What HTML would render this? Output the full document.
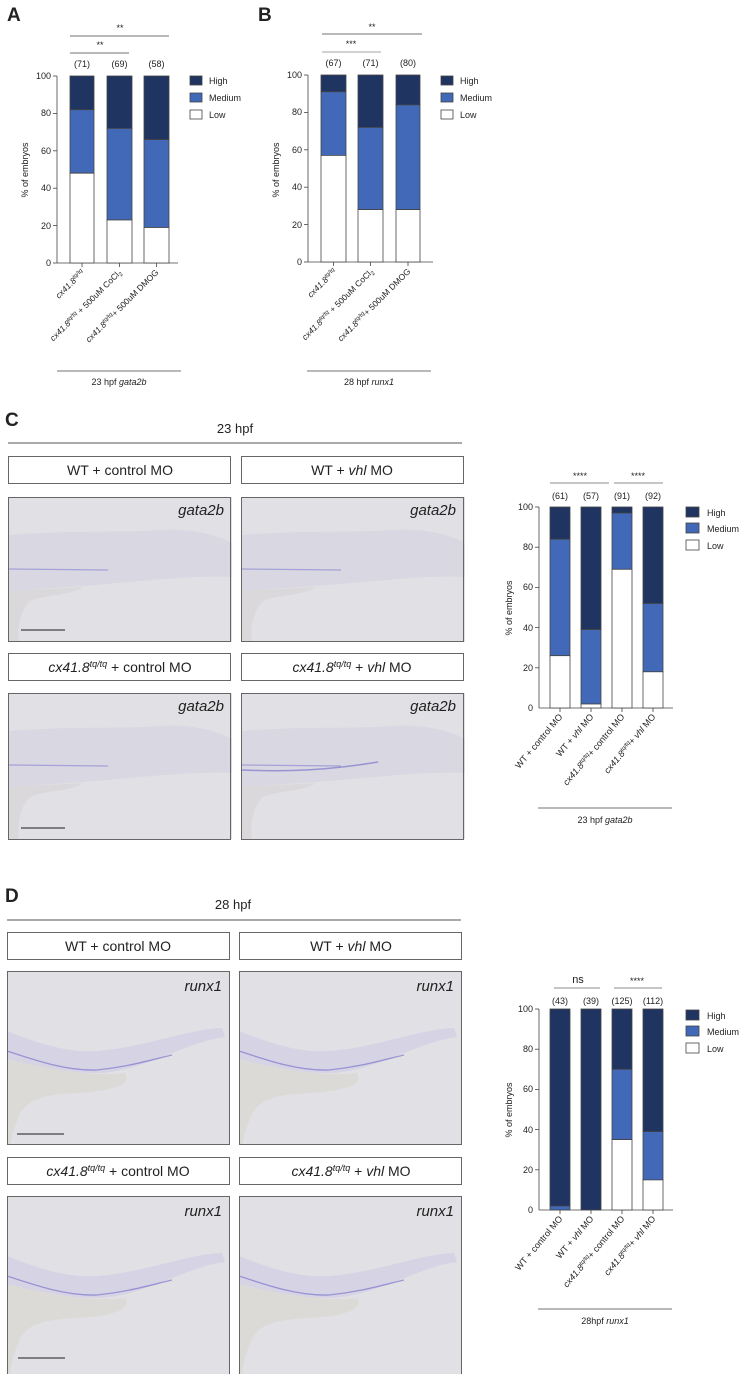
<!DOCTYPE html>
<html><head><meta charset="utf-8"><style>
html,body{margin:0;padding:0;background:#fff;width:746px;height:1374px;overflow:hidden}
text{font-family:"Liberation Sans",sans-serif;fill:#222}
</style></head><body>
<svg width="746" height="1374" viewBox="0 0 746 1374" xmlns="http://www.w3.org/2000/svg">
<defs>
<g id="e23">
<rect x="0" y="0" width="224" height="146" fill="#e1e1e5"/>
<path d="M0,38 C60,33 120,36 150,33 C185,30 215,40 224,46 L224,80 C180,78 120,86 60,90 L0,94 Z" fill="#d9d7e2"/>
<path d="M0,94 L75,90 C65,98 35,98 22,104 C12,114 9,130 11,146 L0,146 Z" fill="#dad8da"/>
<path d="M0,72 L100,73" stroke="#7b78cf" stroke-width="1.2" opacity="0.55"/>
</g>
<g id="e28">
<rect x="0" y="0" width="224" height="180" fill="#e1e1e5"/>
<path d="M0,60 C30,72 60,82 90,80 C140,76 180,58 215,57 L218,66 C185,70 150,92 110,100 C80,106 40,98 0,88 Z" fill="#d6d3e4"/>
<path d="M0,88 C40,98 80,106 118,102 C125,112 110,120 70,122 C35,124 20,128 12,145 C8,155 4,165 3,178 L0,178 Z" fill="#dcdad6"/>
<path d="M0,80 C30,90 60,100 90,99 C120,96 140,90 165,84" stroke="#6d68c8" stroke-width="1.3" fill="none" opacity="0.6"/>
</g>
</defs>

<text x="7" y="21" font-size="19" font-weight="bold" fill="#000">A</text>
<text x="258" y="21" font-size="19" font-weight="bold" fill="#000">B</text>
<text x="5" y="426" font-size="19" font-weight="bold" fill="#000">C</text>
<text x="5" y="902" font-size="19" font-weight="bold" fill="#000">D</text>

<!-- ===== Chart A ===== -->
<g font-size="9">
<text x="120" y="31" text-anchor="middle">**</text>
<line x1="70" y1="36" x2="169" y2="36" stroke="#444" stroke-width="0.8"/>
<text x="100" y="48" text-anchor="middle">**</text>
<line x1="70" y1="53" x2="129" y2="53" stroke="#444" stroke-width="0.8"/>
<text x="82" y="67" text-anchor="middle">(71)</text>
<text x="119.5" y="67" text-anchor="middle">(69)</text>
<text x="156.5" y="67" text-anchor="middle">(58)</text>
<g text-anchor="end">
<text x="51" y="79">100</text><text x="51" y="116">80</text><text x="51" y="154">60</text>
<text x="51" y="191">40</text><text x="51" y="229">20</text><text x="51" y="266">0</text>
</g>
<g stroke="#444" stroke-width="0.8">
<line x1="57" y1="76" x2="57" y2="263"/><line x1="57" y1="263" x2="178" y2="263"/>
<line x1="53" y1="76" x2="57" y2="76"/><line x1="53" y1="113.4" x2="57" y2="113.4"/><line x1="53" y1="150.8" x2="57" y2="150.8"/><line x1="53" y1="188.2" x2="57" y2="188.2"/><line x1="53" y1="225.6" x2="57" y2="225.6"/><line x1="53" y1="263" x2="57" y2="263"/>
<line x1="82" y1="263" x2="82" y2="267"/><line x1="119.5" y1="263" x2="119.5" y2="267"/><line x1="156.5" y1="263" x2="156.5" y2="267"/>
</g>
<text transform="translate(28,170) rotate(-90)" text-anchor="middle">% of embryos</text>
<g stroke="#444" stroke-width="0.8">
<rect x="70" y="76" width="24" height="33.7" fill="#1f3461"/><rect x="70" y="109.7" width="24" height="63.5" fill="#4169b8"/><rect x="70" y="173.2" width="24" height="89.8" fill="#fff"/>
<rect x="107" y="76" width="25" height="52.4" fill="#1f3461"/><rect x="107" y="128.4" width="25" height="91.6" fill="#4169b8"/><rect x="107" y="220" width="25" height="43" fill="#fff"/>
<rect x="144" y="76" width="25" height="63.6" fill="#1f3461"/><rect x="144" y="139.6" width="25" height="87.9" fill="#4169b8"/><rect x="144" y="227.5" width="25" height="35.5" fill="#fff"/>
</g>
<g stroke="#444" stroke-width="0.8">
<rect x="190" y="76" width="12" height="9" fill="#1f3461"/><rect x="190" y="93" width="12" height="9" fill="#4169b8"/><rect x="190" y="110" width="12" height="9" fill="#fff"/>
</g>
<text x="209" y="84">High</text><text x="209" y="101">Medium</text><text x="209" y="118">Low</text>
<g text-anchor="end" font-size="8.5">
<text transform="translate(85,273) rotate(-45)"><tspan font-style="italic">cx41.8<tspan font-size="6" dy="-3">tq/tq</tspan></tspan></text>
<text transform="translate(122,273) rotate(-45)"><tspan font-style="italic">cx41.8<tspan font-size="6" dy="-3">tq/tq</tspan></tspan><tspan dy="3"> + 500uM CoCl</tspan><tspan font-size="6" dy="2">2</tspan></text>
<text transform="translate(159,273) rotate(-45)"><tspan font-style="italic">cx41.8<tspan font-size="6" dy="-3">tq/tq</tspan></tspan><tspan dy="3">+ 500uM DMOG</tspan></text>
</g>
<line x1="57" y1="371" x2="181" y2="371" stroke="#444" stroke-width="0.8"/>
<text x="119" y="385" text-anchor="middle">23 hpf <tspan font-style="italic">gata2b</tspan></text>
</g>

<!-- ===== Chart B ===== -->
<g font-size="9">
<text x="372" y="30" text-anchor="middle">**</text>
<line x1="322" y1="34" x2="422" y2="34" stroke="#444" stroke-width="0.8"/>
<text x="351" y="47" text-anchor="middle">***</text>
<line x1="322" y1="52" x2="381" y2="52" stroke="#888" stroke-width="0.8"/>
<text x="333.5" y="66" text-anchor="middle">(67)</text>
<text x="370.5" y="66" text-anchor="middle">(71)</text>
<text x="408" y="66" text-anchor="middle">(80)</text>
<g text-anchor="end">
<text x="302" y="78">100</text><text x="302" y="115">80</text><text x="302" y="153">60</text>
<text x="302" y="190">40</text><text x="302" y="228">20</text><text x="302" y="265">0</text>
</g>
<g stroke="#444" stroke-width="0.8">
<line x1="308" y1="75" x2="308" y2="262"/><line x1="308" y1="262" x2="433" y2="262"/>
<line x1="304" y1="75" x2="308" y2="75"/><line x1="304" y1="112.4" x2="308" y2="112.4"/><line x1="304" y1="149.8" x2="308" y2="149.8"/><line x1="304" y1="187.2" x2="308" y2="187.2"/><line x1="304" y1="224.6" x2="308" y2="224.6"/><line x1="304" y1="262" x2="308" y2="262"/>
<line x1="333.5" y1="262" x2="333.5" y2="266"/><line x1="370.5" y1="262" x2="370.5" y2="266"/><line x1="408" y1="262" x2="408" y2="266"/>
</g>
<text transform="translate(279,170) rotate(-90)" text-anchor="middle">% of embryos</text>
<g stroke="#444" stroke-width="0.8">
<rect x="321" y="75" width="25" height="16.8" fill="#1f3461"/><rect x="321" y="91.8" width="25" height="63.6" fill="#4169b8"/><rect x="321" y="155.4" width="25" height="106.6" fill="#fff"/>
<rect x="358" y="75" width="25" height="52.4" fill="#1f3461"/><rect x="358" y="127.4" width="25" height="82.2" fill="#4169b8"/><rect x="358" y="209.6" width="25" height="52.4" fill="#fff"/>
<rect x="396" y="75" width="24" height="29.9" fill="#1f3461"/><rect x="396" y="104.9" width="24" height="104.7" fill="#4169b8"/><rect x="396" y="209.6" width="24" height="52.4" fill="#fff"/>
</g>
<g stroke="#444" stroke-width="0.8">
<rect x="441" y="76" width="12" height="9" fill="#1f3461"/><rect x="441" y="93" width="12" height="9" fill="#4169b8"/><rect x="441" y="110" width="12" height="9" fill="#fff"/>
</g>
<text x="460" y="84">High</text><text x="460" y="101">Medium</text><text x="460" y="118">Low</text>
<g text-anchor="end" font-size="8.5">
<text transform="translate(337,272) rotate(-45)"><tspan font-style="italic">cx41.8<tspan font-size="6" dy="-3">tq/tq</tspan></tspan></text>
<text transform="translate(374,272) rotate(-45)"><tspan font-style="italic">cx41.8<tspan font-size="6" dy="-3">tq/tq</tspan></tspan><tspan dy="3"> + 500uM CoCl</tspan><tspan font-size="6" dy="2">2</tspan></text>
<text transform="translate(411,272) rotate(-45)"><tspan font-style="italic">cx41.8<tspan font-size="6" dy="-3">tq/tq</tspan></tspan><tspan dy="3">+ 500uM DMOG</tspan></text>
</g>
<line x1="307" y1="371" x2="431" y2="371" stroke="#444" stroke-width="0.8"/>
<text x="369" y="385" text-anchor="middle">28 hpf <tspan font-style="italic">runx1</tspan></text>
</g>

<!-- ===== Panel C images ===== -->
<g font-size="14">
<text x="235" y="433" text-anchor="middle" font-size="13" fill="#555">23 hpf</text>
<line x1="8" y1="443" x2="462" y2="443" stroke="#555" stroke-width="0.9"/>
<rect x="8.5" y="456.5" width="222" height="27" fill="#fff" stroke="#666"/>
<rect x="241.5" y="456.5" width="222" height="27" fill="#fff" stroke="#666"/>
<text x="120" y="475" text-anchor="middle" fill="#555">WT + control MO</text>
<text x="352" y="475" text-anchor="middle" fill="#555">WT + <tspan font-style="italic">vhl</tspan> MO</text>
<svg x="8" y="497" width="224" height="145"><use href="#e23"/></svg>
<svg x="241" y="497" width="224" height="145"><use href="#e23"/></svg>
<rect x="8.5" y="497.5" width="222" height="144" fill="none" stroke="#666"/>
<rect x="241.5" y="497.5" width="222" height="144" fill="none" stroke="#666"/>
<text x="224" y="515" text-anchor="end" font-style="italic" font-size="15" fill="#555">gata2b</text>
<text x="456" y="515" text-anchor="end" font-style="italic" font-size="15" fill="#555">gata2b</text>
<line x1="21" y1="630" x2="65" y2="630" stroke="#444" stroke-width="1.2"/>
<rect x="8.5" y="653.5" width="222" height="27" fill="#fff" stroke="#666"/>
<rect x="241.5" y="653.5" width="222" height="27" fill="#fff" stroke="#666"/>
<text x="120" y="672" text-anchor="middle" fill="#555"><tspan font-style="italic">cx41.8<tspan font-size="9" dy="-5">tq/tq</tspan></tspan><tspan dy="5"> + control MO</tspan></text>
<text x="352" y="672" text-anchor="middle" fill="#555"><tspan font-style="italic">cx41.8<tspan font-size="9" dy="-5">tq/tq</tspan></tspan><tspan dy="5"> + </tspan><tspan font-style="italic">vhl</tspan> MO</text>
<svg x="8" y="693" width="224" height="147"><use href="#e23"/></svg>
<svg x="241" y="693" width="224" height="147"><use href="#e23"/></svg>
<path d="M242,770 C290,772 330,770 378,762" stroke="#6d68c8" stroke-width="1.5" fill="none" opacity="0.6"/>
<rect x="8.5" y="693.5" width="222" height="146" fill="none" stroke="#666"/>
<rect x="241.5" y="693.5" width="222" height="146" fill="none" stroke="#666"/>
<text x="224" y="711" text-anchor="end" font-style="italic" font-size="15" fill="#555">gata2b</text>
<text x="456" y="711" text-anchor="end" font-style="italic" font-size="15" fill="#555">gata2b</text>
<line x1="21" y1="828" x2="65" y2="828" stroke="#444" stroke-width="1.2"/>
</g>

<!-- ===== Chart C ===== -->
<g font-size="9">
<text x="580" y="479" text-anchor="middle">****</text>
<line x1="550" y1="483" x2="609" y2="483" stroke="#666" stroke-width="0.8"/>
<text x="638" y="479" text-anchor="middle">****</text>
<line x1="614" y1="483" x2="663" y2="483" stroke="#666" stroke-width="0.8"/>
<text x="560" y="499" text-anchor="middle">(61)</text><text x="591" y="499" text-anchor="middle">(57)</text>
<text x="622" y="499" text-anchor="middle">(91)</text><text x="653" y="499" text-anchor="middle">(92)</text>
<g text-anchor="end">
<text x="533" y="510">100</text><text x="533" y="550">80</text><text x="533" y="590">60</text>
<text x="533" y="631">40</text><text x="533" y="671">20</text><text x="533" y="711">0</text>
</g>
<g stroke="#444" stroke-width="0.8">
<line x1="539" y1="507" x2="539" y2="708"/><line x1="539" y1="708" x2="673" y2="708"/>
<line x1="535" y1="507" x2="539" y2="507"/><line x1="535" y1="547.2" x2="539" y2="547.2"/><line x1="535" y1="587.4" x2="539" y2="587.4"/><line x1="535" y1="627.6" x2="539" y2="627.6"/><line x1="535" y1="667.8" x2="539" y2="667.8"/>
<line x1="560" y1="708" x2="560" y2="712"/><line x1="591" y1="708" x2="591" y2="712"/><line x1="622" y1="708" x2="622" y2="712"/><line x1="653" y1="708" x2="653" y2="712"/>
</g>
<text transform="translate(512,608) rotate(-90)" text-anchor="middle">% of embryos</text>
<g stroke="#444" stroke-width="0.8">
<rect x="550" y="507" width="20" height="32.2" fill="#1f3461"/><rect x="550" y="539.2" width="20" height="116.5" fill="#4169b8"/><rect x="550" y="655.7" width="20" height="52.3" fill="#fff"/>
<rect x="581" y="507" width="20" height="122.6" fill="#1f3461"/><rect x="581" y="629.6" width="20" height="74.4" fill="#4169b8"/><rect x="581" y="704" width="20" height="4" fill="#fff"/>
<rect x="612" y="507" width="20" height="6" fill="#1f3461"/><rect x="612" y="513" width="20" height="56.3" fill="#4169b8"/><rect x="612" y="569.3" width="20" height="138.7" fill="#fff"/>
<rect x="643" y="507" width="20" height="96.5" fill="#1f3461"/><rect x="643" y="603.5" width="20" height="68.3" fill="#4169b8"/><rect x="643" y="671.8" width="20" height="36.2" fill="#fff"/>
</g>
<g stroke="#444" stroke-width="0.8">
<rect x="686" y="507" width="13" height="10" fill="#1f3461"/><rect x="686" y="523" width="13" height="10" fill="#4169b8"/><rect x="686" y="540" width="13" height="10" fill="#fff"/>
</g>
<text x="707" y="516">High</text><text x="707" y="532">Medium</text><text x="707" y="549">Low</text>
<g text-anchor="end" font-size="9">
<text transform="translate(563,717) rotate(-50)">WT + control MO</text>
<text transform="translate(594,717) rotate(-50)">WT + <tspan font-style="italic">vhl</tspan> MO</text>
<text transform="translate(625,717) rotate(-50)"><tspan font-style="italic">cx41.8<tspan font-size="6" dy="-3">tq/tq</tspan></tspan><tspan dy="3">+ control MO</tspan></text>
<text transform="translate(656,717) rotate(-50)"><tspan font-style="italic">cx41.8<tspan font-size="6" dy="-3">tq/tq</tspan></tspan><tspan dy="3">+ </tspan><tspan font-style="italic">vhl</tspan> MO</text>
</g>
<line x1="538" y1="808" x2="672" y2="808" stroke="#444" stroke-width="0.8"/>
<text x="605" y="823" text-anchor="middle">23 hpf <tspan font-style="italic">gata2b</tspan></text>
</g>

<!-- ===== Panel D images ===== -->
<g font-size="14">
<text x="233" y="909" text-anchor="middle" font-size="13" fill="#555">28 hpf</text>
<line x1="7" y1="920" x2="461" y2="920" stroke="#555" stroke-width="0.9"/>
<rect x="7.5" y="932.5" width="222" height="27" fill="#fff" stroke="#666"/>
<rect x="239.5" y="932.5" width="222" height="27" fill="#fff" stroke="#666"/>
<text x="118" y="951" text-anchor="middle" fill="#555">WT + control MO</text>
<text x="351" y="951" text-anchor="middle" fill="#555">WT + <tspan font-style="italic">vhl</tspan> MO</text>
<svg x="7" y="971" width="223" height="174"><use href="#e28"/></svg>
<svg x="239" y="971" width="223" height="174"><use href="#e28"/></svg>
<rect x="7.5" y="971.5" width="222" height="173" fill="none" stroke="#666"/>
<rect x="239.5" y="971.5" width="222" height="173" fill="none" stroke="#666"/>
<text x="222" y="991" text-anchor="end" font-style="italic" font-size="15" fill="#555">runx1</text>
<text x="454" y="991" text-anchor="end" font-style="italic" font-size="15" fill="#555">runx1</text>
<line x1="17" y1="1134" x2="64" y2="1134" stroke="#444" stroke-width="1.2"/>
<rect x="7.5" y="1157.5" width="222" height="27" fill="#fff" stroke="#666"/>
<rect x="239.5" y="1157.5" width="222" height="27" fill="#fff" stroke="#666"/>
<text x="118" y="1176" text-anchor="middle" fill="#555"><tspan font-style="italic">cx41.8<tspan font-size="9" dy="-5">tq/tq</tspan></tspan><tspan dy="5"> + control MO</tspan></text>
<text x="351" y="1176" text-anchor="middle" fill="#555"><tspan font-style="italic">cx41.8<tspan font-size="9" dy="-5">tq/tq</tspan></tspan><tspan dy="5"> + </tspan><tspan font-style="italic">vhl</tspan> MO</text>
<svg x="7" y="1196" width="223" height="178"><use href="#e28"/></svg>
<svg x="239" y="1196" width="223" height="178"><use href="#e28"/></svg>
<rect x="7.5" y="1196.5" width="222" height="180" fill="none" stroke="#666"/>
<rect x="239.5" y="1196.5" width="222" height="180" fill="none" stroke="#666"/>
<text x="222" y="1216" text-anchor="end" font-style="italic" font-size="15" fill="#555">runx1</text>
<text x="454" y="1216" text-anchor="end" font-style="italic" font-size="15" fill="#555">runx1</text>
<line x1="18" y1="1358" x2="65" y2="1358" stroke="#444" stroke-width="1.2"/>
</g>

<!-- ===== Chart D ===== -->
<g font-size="9">
<text x="578" y="983" text-anchor="middle" font-size="11">ns</text>
<line x1="554" y1="988" x2="600" y2="988" stroke="#666" stroke-width="0.8"/>
<text x="637" y="984" text-anchor="middle">****</text>
<line x1="614" y1="988" x2="662" y2="988" stroke="#666" stroke-width="0.8"/>
<text x="560" y="1004" text-anchor="middle">(43)</text><text x="591" y="1004" text-anchor="middle">(39)</text>
<text x="622" y="1004" text-anchor="middle">(125)</text><text x="653" y="1004" text-anchor="middle">(112)</text>
<g text-anchor="end">
<text x="533" y="1012">100</text><text x="533" y="1052">80</text><text x="533" y="1092">60</text>
<text x="533" y="1133">40</text><text x="533" y="1173">20</text><text x="533" y="1213">0</text>
</g>
<g stroke="#444" stroke-width="0.8">
<line x1="539" y1="1009" x2="539" y2="1210"/><line x1="539" y1="1210" x2="673" y2="1210"/>
<line x1="535" y1="1009" x2="539" y2="1009"/><line x1="535" y1="1049.2" x2="539" y2="1049.2"/><line x1="535" y1="1089.4" x2="539" y2="1089.4"/><line x1="535" y1="1129.6" x2="539" y2="1129.6"/><line x1="535" y1="1169.8" x2="539" y2="1169.8"/>
<line x1="560" y1="1210" x2="560" y2="1214"/><line x1="591" y1="1210" x2="591" y2="1214"/><line x1="622" y1="1210" x2="622" y2="1214"/><line x1="653" y1="1210" x2="653" y2="1214"/>
</g>
<text transform="translate(512,1110) rotate(-90)" text-anchor="middle">% of embryos</text>
<g stroke="#444" stroke-width="0.8">
<rect x="550" y="1009" width="20" height="197" fill="#1f3461"/><rect x="550" y="1206" width="20" height="4" fill="#4169b8"/>
<rect x="581" y="1009" width="20" height="201" fill="#1f3461"/>
<rect x="612" y="1009" width="20" height="60.3" fill="#1f3461"/><rect x="612" y="1069.3" width="20" height="70.3" fill="#4169b8"/><rect x="612" y="1139.6" width="20" height="70.4" fill="#fff"/>
<rect x="643" y="1009" width="20" height="122.6" fill="#1f3461"/><rect x="643" y="1131.6" width="20" height="48.3" fill="#4169b8"/><rect x="643" y="1179.9" width="20" height="30.1" fill="#fff"/>
</g>
<g stroke="#444" stroke-width="0.8">
<rect x="686" y="1010" width="13" height="10" fill="#1f3461"/><rect x="686" y="1026" width="13" height="10" fill="#4169b8"/><rect x="686" y="1043" width="13" height="10" fill="#fff"/>
</g>
<text x="707" y="1019">High</text><text x="707" y="1035">Medium</text><text x="707" y="1052">Low</text>
<g text-anchor="end" font-size="9">
<text transform="translate(563,1219) rotate(-50)">WT + control MO</text>
<text transform="translate(594,1219) rotate(-50)">WT + <tspan font-style="italic">vhl</tspan> MO</text>
<text transform="translate(625,1219) rotate(-50)"><tspan font-style="italic">cx41.8<tspan font-size="6" dy="-3">tq/tq</tspan></tspan><tspan dy="3">+ control MO</tspan></text>
<text transform="translate(656,1219) rotate(-50)"><tspan font-style="italic">cx41.8<tspan font-size="6" dy="-3">tq/tq</tspan></tspan><tspan dy="3">+ </tspan><tspan font-style="italic">vhl</tspan> MO</text>
</g>
<line x1="538" y1="1309" x2="672" y2="1309" stroke="#444" stroke-width="0.8"/>
<text x="605" y="1324" text-anchor="middle">28hpf <tspan font-style="italic">runx1</tspan></text>
</g>
</svg>
</body></html>
